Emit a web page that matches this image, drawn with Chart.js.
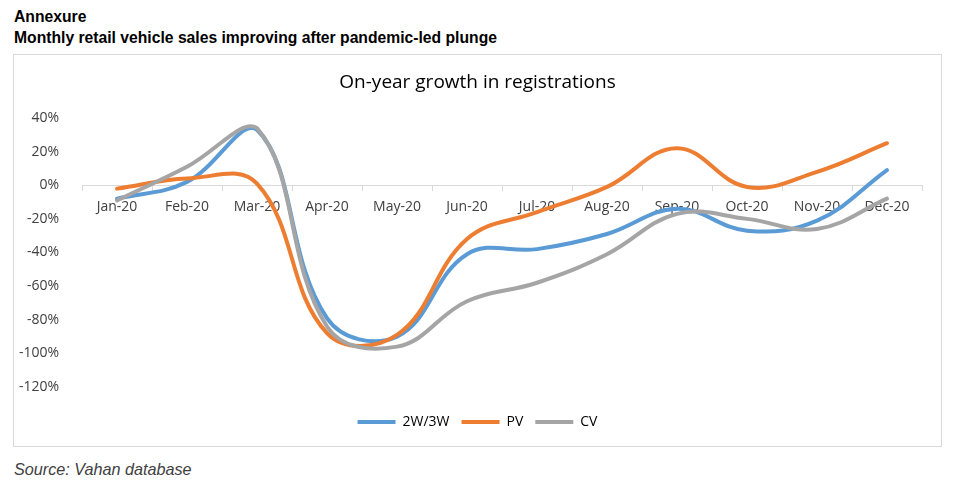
<!DOCTYPE html>
<html>
<head>
<meta charset="utf-8">
<script src="https://cdn.jsdelivr.net/npm/chart.js@4.4.1/dist/chart.umd.min.js"></script>
<style>
    body { margin: 0; width: 968px; height: 487px; background: #fff; position: relative; overflow: hidden; font-family: "Liberation Sans", Arial, sans-serif; }
    .titulo { position: absolute; left: 14px; font-weight: bold; font-size: 15.7px; color: #000; }
    #caixa { position: absolute; left: 13px; top: 54px; width: 927px; height: 391px; border: 1px solid #d9d9d9; }
    #area-grafico { position: absolute; left: 14px; top: 55px; width: 927px; height: 391px; }
    #fonte { position: absolute; left: 14px; top: 460px; font-style: italic; font-size: 16.2px; color: #404040; }
</style>
</head>
<body>
<div class="titulo" style="top: 8px;">Annexure</div>
<div class="titulo" style="top: 29px;">Monthly retail vehicle sales improving after pandemic-led plunge</div>
<div id="caixa"></div>
<div id="area-grafico"><canvas id="grafico-vendas"></canvas></div>
<div id="fonte">Source: Vahan database</div>

<script>
const meses = ['Jan-20', 'Feb-20', 'Mar-20', 'Apr-20', 'May-20', 'Jun-20', 'Jul-20', 'Aug-20', 'Sep-20', 'Oct-20', 'Nov-20', 'Dec-20'];
const duasTresRodas = [-8, 2, 33, -79, -90, -41, -38, -29, -14, -27, -21, 9];
const passageiros = [-2, 4, 1, -88, -89, -32, -16, -1, 22, -1, 8, 25];
const comerciais = [-9, 11, 34, -84, -96, -69, -58, -41, -17, -20, -26, -8];
const ticksY = [40, 20, 0, -20, -40, -60, -80, -100, -120];

function serie(label, dados, cor, ordem) {
    return {
        label: label,
        data: dados,
        borderColor: cor,
        backgroundColor: cor,
        borderWidth: 4,
        borderCapStyle: 'round',
        pointRadius: 0,
        pointStyle: 'line',
        tension: 0.4,
        fill: false,
        order: ordem
    };
}

function desenharGrafico() {
    const ctx = document.getElementById('grafico-vendas').getContext('2d');
    const fonteEixo = { family: '"Open Sans", sans-serif', size: 14 };
    new Chart(ctx, {
        type: 'line',
        data: {
            labels: meses,
            datasets: [
                serie('2W/3W', duasTresRodas, '#5b9bd5', 3),
                serie('PV', passageiros, '#ed7d31', 2),
                serie('CV', comerciais, '#a5a5a5', 1)
            ]
        },
        options: {
            responsive: true,
            maintainAspectRatio: false,
            animation: false,
            layout: { padding: { left: 0, right: 0, top: 0, bottom: 7 } },
            plugins: {
                title: {
                    display: true,
                    text: 'On-year growth in registrations',
                    color: '#000',
                    font: { family: '"Open Sans", sans-serif', size: 19, weight: 'normal' },
                    padding: { top: 16.6, bottom: 23.6 }
                },
                legend: {
                    position: 'bottom',
                    title: { display: true, text: '', font: { size: 10 }, padding: { top: 0, bottom: 4 } },
                    labels: {
                        usePointStyle: true,
                        pointStyleWidth: 38,
                        padding: 12,
                        color: '#000',
                        font: { family: '"Open Sans", sans-serif', size: 14 },
                        sort: (a, b) => a.datasetIndex - b.datasetIndex
                    }
                },
                tooltip: { enabled: false }
            },
            scales: {
                x: {
                    position: { y: 0 },
                    offset: true,
                    grid: {
                        offset: true,
                        drawOnChartArea: false,
                        drawTicks: true,
                        tickLength: 5,
                        color: '#d9d9d9'
                    },
                    border: { display: true, color: '#d9d9d9' },
                    ticks: { color: '#404040', font: fonteEixo, padding: 8, maxRotation: 0 }
                },
                y: {
                    min: -120,
                    max: 40,
                    afterFit: escala => { escala.width = 68; },
                    afterBuildTicks: escala => { escala.ticks = ticksY.map(v => ({ value: v })); },
                    grid: { display: false },
                    border: { display: false },
                    ticks: {
                        color: '#404040',
                        font: fonteEixo,
                        padding: 15,
                        callback: valor => valor + '%'
                    }
                },
                // eixo vazio a direita so para deixar a margem da area do grafico
                margem: {
                    type: 'linear',
                    position: 'right',
                    afterFit: escala => { escala.width = 19; },
                    grid: { display: false },
                    border: { display: false },
                    ticks: { display: false }
                }
            }
        }
    });
}

document.addEventListener('DOMContentLoaded', function() {
    desenharGrafico();
});
</script>
</body>
</html>
